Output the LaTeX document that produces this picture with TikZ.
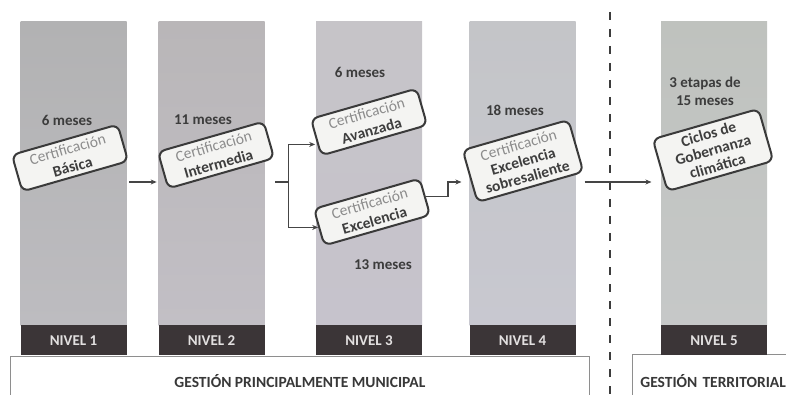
\documentclass[tikz,border=0pt]{standalone}
\usepackage{fontspec}
\setmainfont{Carlito}
\usepackage{xcolor}
\usepackage{tikz}
\usetikzlibrary{arrows.meta, calc}

\definecolor{bandgray}{HTML}{3B3537}
\definecolor{bandtext}{HTML}{E2E0E0}
\definecolor{boxline}{HTML}{3A3A3A}
\definecolor{boxfill}{HTML}{F4F4F2}
\definecolor{certgray}{HTML}{8C8C8C}
\definecolor{certdark}{HTML}{3E3E3E}
\definecolor{durgray}{HTML}{3C3C3C}
\definecolor{arrowgray}{HTML}{454545}
\definecolor{gestline}{HTML}{8E8E8E}
\definecolor{gesttext}{HTML}{383838}
\definecolor{bar1top}{HTML}{B2B2B3}
\definecolor{bar1bot}{HTML}{BDBCC0}
\definecolor{bar2top}{HTML}{B9B6B8}
\definecolor{bar2bot}{HTML}{C2BFC5}
\definecolor{bar3top}{HTML}{C6C4C8}
\definecolor{bar3bot}{HTML}{C6C3CC}
\definecolor{bar4top}{HTML}{C4C5C8}
\definecolor{bar4bot}{HTML}{C8C8D0}
\definecolor{bar5top}{HTML}{BFC2BE}
\definecolor{bar5bot}{HTML}{C6C8C8}

\begin{document}
\begin{tikzpicture}[x=1pt, y=-1pt,
  bar/.style={minimum width=106pt, minimum height=303pt, inner sep=0pt},
  band/.style={fill=bandgray, text=bandtext, anchor=north,
               minimum width=106pt, minimum height=30pt, inner sep=0pt,
               font=\bfseries\fontsize{15}{16}\selectfont},
  cert/.style={draw=boxline, line width=2pt, rounded corners=7pt,
               fill=boxfill, rotate=16, minimum width=110pt,
               minimum height=38pt, inner sep=2pt, align=center,
               text=certgray, font=\fontsize{15.5}{18}\selectfont},
  dur/.style={text=durgray, align=center,
              font=\bfseries\fontsize{15}{18}\selectfont},
  arr/.style={draw=arrowgray, line width=1.4pt,
              -{Stealth[length=6pt, width=5pt]}},
  link/.style={draw=arrowgray, line width=1.4pt},
  gestbox/.style={draw=gestline, line width=0.8pt, fill=white,
                  inner sep=0pt, text=gesttext,
                  font=\bfseries\fontsize{15.5}{17}\selectfont}]

\useasboundingbox (0,0) rectangle (786,395);
\clip (0,0) rectangle (786,395);

% Management boxes
\node[gestbox, anchor=north west, minimum width=579pt, minimum height=50pt]
  (municipal) at (10,356) {GESTIÓN PRINCIPALMENTE MUNICIPAL};
\node[gestbox, anchor=north west, minimum width=170pt, minimum height=54pt,
      text width=154pt, inner xsep=8pt, align=left]
  (territorial) at (632,354) {GESTIÓN TERRITORIAL};

% Columns
\node[bar, top color=bar1top, bottom color=bar1bot] (bar1) at (73.5,173.5) {};
\node[bar, top color=bar2top, bottom color=bar2bot] (bar2) at (211.5,173.5) {};
\node[bar, top color=bar3top, bottom color=bar3bot] (bar3) at (369,173.5) {};
\node[bar, top color=bar4top, bottom color=bar4bot] (bar4) at (522.5,173.5) {};
\node[bar, top color=bar5top, bottom color=bar5bot] (bar5) at (714,173.5) {};

% Level bands
\node[band] (lvl1) at (bar1.south) {NIVEL 1};
\node[band] (lvl2) at (bar2.south) {NIVEL 2};
\node[band] (lvl3) at (bar3.south) {NIVEL 3};
\node[band] (lvl4) at (bar4.south) {NIVEL 4};
\node[band] (lvl5) at (bar5.south) {NIVEL 5};

% Divider
\draw[draw=durgray, line width=2.2pt, dash pattern=on 8pt off 9pt]
  (610,12) -- (610,395);

% Durations
\node[dur] (d1) at (67,120) {6 meses};
\node[dur] (d2) at (203,120) {11 meses};
\node[dur] (d3a) at (360,72) {6 meses};
\node[dur] (d3b) at (383,265) {13 meses};
\node[dur] (d4) at (515,110) {18 meses};
\node[dur] (d5) at (705,91) {3 etapas de\\15 meses};

% Certification boxes
\node[cert] (basica) at (70,158)
  {Certificación\\{\color{certdark}\bfseries Básica}};
\node[cert] (intermedia) at (216,155)
  {Certificación\\{\color{certdark}\bfseries Intermedia}};
\node[cert] (avanzada) at (369,122)
  {Certificación\\{\color{certdark}\bfseries Avanzada}};
\node[cert] (excelencia) at (372,212)
  {Certificación\\{\color{certdark}\bfseries Excelencia}};
\node[cert, minimum height=54pt, font=\fontsize{15.5}{16.5}\selectfont]
  (sobresaliente) at (523,161)
  {Certificación\\{\color{certdark}\bfseries Excelencia}\\{\color{certdark}\bfseries sobresaliente}};
\node[cert, minimum height=54pt, text=certdark,
      font=\bfseries\fontsize{15.5}{16.5}\selectfont] (gobernanza) at (713,150)
  {Ciclos de\\Gobernanza\\climática};

% Arrows
\coordinate (lv) at (0,182);
\draw[arr] (basica.south east |- lv) -- (intermedia.north west |- lv);
\draw[link] (intermedia.south east |- lv) -- ++(13,0) coordinate (split);
\draw[arr] (split) |- ([yshift=-7pt]avanzada.west);
\draw[arr] (split) |- (excelencia.west);
\draw[arr] (excelencia.east) -- ++(22,0) |- (sobresaliente.north west |- lv);
\draw[arr] (sobresaliente.south east |- lv) -- (gobernanza.north west |- lv);

\end{tikzpicture}
\end{document}
